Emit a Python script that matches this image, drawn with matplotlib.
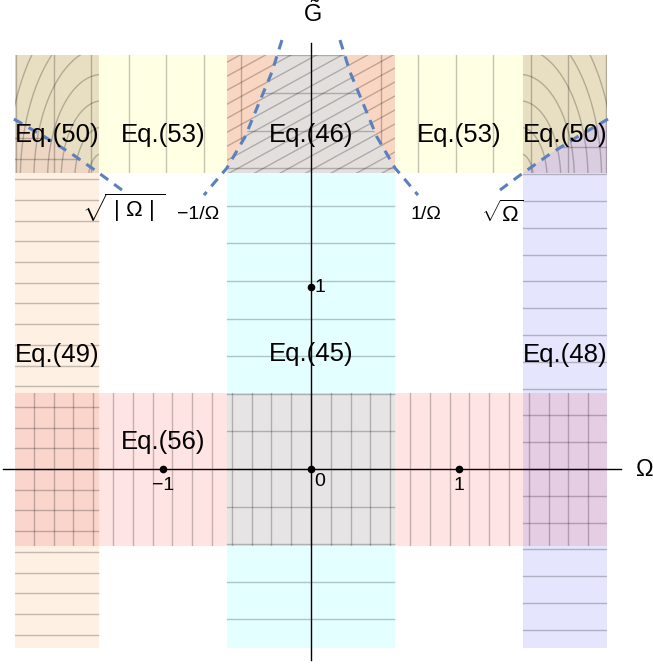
import matplotlib.pyplot as plt
import numpy as np
from matplotlib.patches import Rectangle, Polygon

plt.rcParams['font.family'] = ['Liberation Sans', 'DejaVu Sans']
plt.rcParams['mathtext.fontset'] = 'custom'
plt.rcParams['mathtext.rm'] = 'Liberation Sans'
plt.rcParams['mathtext.it'] = 'Liberation Sans:italic'

# region edges in (Omega, G~)
om_in, om_side, om_out = 0.57, 1.43, 2.0
g_top, g_mid, g_band, g_bot = 2.275, 1.626, 0.42, -0.984

# dashed curves (right half, mirrored for the left)
inv_om = [0.196, 0.264, 0.351, 0.446, 0.568, 0.649, 0.723]
inv_g = [2.357, 2.181, 2.011, 1.824, 1.654, 1.577, 1.505]
sqrt_om = [1.277, 1.432, 1.615, 1.797, 2.007]
sqrt_g = [1.533, 1.626, 1.731, 1.824, 1.923]

# region labels
eq_labels = ['Eq.(50)', 'Eq.(53)', 'Eq.(46)', 'Eq.(53)', 'Eq.(50)',
             'Eq.(49)', 'Eq.(45)', 'Eq.(48)', 'Eq.(56)']
eq_om = [-1.716, -1.0, 0.0, 1.0, 1.716, -1.716, 0.0, 1.716, -1.0]
eq_g = [1.835, 1.835, 1.835, 1.835, 1.835, 0.626, 0.632, 0.626, 0.148]

curve_labels = [r'$\sqrt{\ |\ \Omega\ |\ }$', '\u22121/\u03a9', '1/\u03a9', r'$\sqrt{\Omega}$']
curve_om = [-1.265, -0.764, 0.777, 1.292]
curve_g = [1.435, 1.401, 1.396, 1.405]
curve_fs = [16, 14, 14, 16]

tick_om = [-1, 0, 1, 0]
tick_g = [0, 0, 0, 1]
tick_labels = ['\u22121', '0', '1', '1']

col = {
    'yellow': '#ffffe4', 'salmon': '#f9d6c2', 'tan': '#e8dec1',
    'gray_top': '#e2dfdd', 'peach': '#edd6c3', 'lav': '#dacde0',
    'pink': '#ffe4e4', 'cyan': '#e4ffff', 'orange': '#fef0e3',
    'blue': '#e5e5fd', 'gray_bot': '#e6e4e4', 'red': '#fad5cb',
    'purple': '#e5cde4', 'dash': '#5b80c0',
}

fig = plt.figure(figsize=(6.53, 6.64), dpi=100)
ax = fig.add_axes([0, 0, 1, 1])
ax.set_xlim(-2.101, 2.311)
ax.set_ylim(-1.071, 2.577)
ax.axis('off')

def rect(x0, x1, y0, y1, c, z=1):
    r = Rectangle((x0, y0), x1 - x0, y1 - y0, facecolor=c, edgecolor='none', zorder=z)
    ax.add_patch(r)
    return r

def poly(pts, c, z=1):
    p = Polygon(pts, closed=True, facecolor=c, edgecolor='none', zorder=z)
    ax.add_patch(p)
    return p

def gline(x, y, clip, z=3):
    ln, = ax.plot(x, y, color='k', alpha=0.23, lw=1.0, zorder=z)
    ln.set_clip_path(clip)

# polygons built from the dashed curves
gs = np.linspace(g_mid, g_top, 40)
right = np.minimum(np.interp(gs, inv_g[::-1], inv_om[::-1]), om_in)
gray_pts = list(zip(right, gs)) + list(zip(-right[::-1], gs[::-1]))
cyan_pts = [(-om_in, g_bot), (om_in, g_bot)] + gray_pts

oms = np.linspace(om_side, om_out, 30)
gc = np.interp(oms, sqrt_om, sqrt_g)
peach_pts = [(-o, g) for o, g in zip(oms, gc)] + [(-om_out, g_mid)]
lav_pts = [(o, g) for o, g in zip(oms, gc)] + [(om_out, g_mid)]
orange_pts = [(-om_out, g_bot), (-om_side, g_bot)] + peach_pts[:-1]
blue_pts = [(om_side, g_bot), (om_out, g_bot)] + lav_pts[:-1][::-1]

# top band
rect(-om_out, om_out, g_mid, g_top, col['yellow'])
salmon = rect(-om_in, om_in, g_mid, g_top, col['salmon'])
corner_l = rect(-om_out, -om_side, g_mid, g_top, col['tan'])
corner_r = rect(om_side, om_out, g_mid, g_top, col['tan'])
poly(peach_pts, col['peach'], 1.2).set_clip_path(corner_l)
poly(lav_pts, col['lav'], 1.2).set_clip_path(corner_r)

# columns and the band round G~=0
rect(-om_out, om_out, -g_band, g_band, col['pink'])
rect(-om_in, om_in, g_bot, g_mid, col['cyan'])
rect(-om_out, -om_side, g_bot, g_mid, col['orange'])
rect(om_side, om_out, g_bot, g_mid, col['blue'])
rect(-om_in, om_in, -g_band, g_band, col['gray_bot'])
rect(-om_out, -om_side, -g_band, g_band, col['red'])
rect(om_side, om_out, -g_band, g_band, col['purple'])

# vertical lines in the top band (hidden under the grey part)
top_band = Rectangle((-om_out, g_mid), 2 * om_out, g_top - g_mid, transform=ax.transData)
for k in range(7):
    for s in (-1, 1):
        x = s * (0.47 + 0.2535 * k)
        gline([x, x], [g_mid, g_top], top_band, z=1.5)
gray = poly(gray_pts, col['gray_top'], 2)
gray.set_clip_path(salmon)

# hatching of Eq.(46)
for k in range(-20, 20):
    xx = np.array([-om_in, om_in])
    gline(xx, 1.95 + 0.447 * xx + k * 0.077, salmon)

# arcs in the Eq.(50) corners
th = np.linspace(0, np.pi / 2, 60)
for k in range(1, 10):
    a, b = k * 0.092, k * 0.145
    gline(-1.412 - a * np.cos(th), 1.588 + b * np.sin(th), corner_l)
    gline(1.412 + a * np.cos(th), 1.588 + b * np.sin(th), corner_r)

# line families of the columns and the band
band = Rectangle((-om_out, -g_band), 2 * om_out, 2 * g_band, transform=ax.transData)
for k in range(-15, 16):
    x = k * 0.1338
    if abs(x) <= om_out:
        gline([x, x], [-g_band, g_band], band)

cyan_clip = Polygon(cyan_pts, closed=True, transform=ax.transData)
for k in range(-5, 12):
    gline([-om_in, om_in], [k * 0.2066] * 2, cyan_clip)

orange_clip = Polygon(orange_pts, closed=True, transform=ax.transData)
for k in range(-9, 18):
    gline([-om_out, -om_side], [k * 0.1137] * 2, orange_clip)

blue_clip = Polygon(blue_pts, closed=True, transform=ax.transData)
for k in range(-7, 14):
    gline([om_side, om_out], [k * 0.1473] * 2, blue_clip)

# dashed curves
dash = dict(color=col['dash'], lw=2.2, ls=(0, (3.2, 2.4)), zorder=4)
ax.plot(inv_om, inv_g, **dash)
ax.plot([-v for v in inv_om], inv_g, **dash)
ax.plot(sqrt_om, sqrt_g, **dash)
ax.plot([-v for v in sqrt_om], sqrt_g, **dash)

# axes
ax.plot([-2.08, 2.093], [0, 0], color='k', lw=1.0, zorder=5)
ax.plot([0, 0], [-1.05, 2.34], color='k', lw=1.0, zorder=5)
ax.plot(tick_om, tick_g, 'ko', ms=4.5, zorder=6)
ax.text(2.257, -0.005, '\u03a9', fontsize=17, ha='center', va='center', zorder=6)
ax.text(0.007, 2.5, r'$\tilde{\mathrm{G}}$', fontsize=17, ha='center', va='center', zorder=6)

tick_pos = [(-1.0, -0.093), (0.061, -0.071), (1.0, -0.088), (0.061, 1.0)]
for (x, y), t in zip(tick_pos, tick_labels):
    ax.text(x, y, t, fontsize=14, ha='center', va='center', zorder=6)

for t, x, y in zip(eq_labels, eq_om, eq_g):
    ax.text(x, y, t, fontsize=18.5, ha='center', va='center', zorder=6)

for t, x, y, fs in zip(curve_labels, curve_om, curve_g, curve_fs):
    ax.text(x, y, t, fontsize=fs, ha='center', va='center', zorder=6)

fig.savefig('out.png', dpi=100)
